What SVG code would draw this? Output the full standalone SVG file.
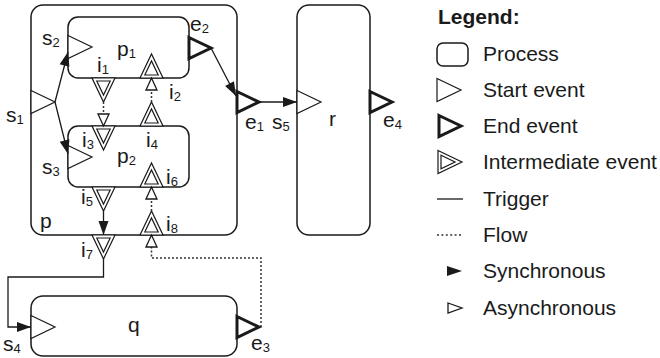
<svg xmlns="http://www.w3.org/2000/svg" xmlns:xlink="http://www.w3.org/1999/xlink" width="660" height="358" viewBox="0 0 660 358">
<style>
.proc{fill:#fff;stroke:#1a1a1a;stroke-width:1.5}
.lbl{font-family:"Liberation Sans",Arial,sans-serif;font-size:21px;fill:#1a1a1a}
.sub{font-size:13px}
.leg{font-family:"Liberation Sans",Arial,sans-serif;font-size:21px;fill:#1a1a1a}
.trig{fill:none;stroke:#1a1a1a;stroke-width:1.3}
.flow{fill:none;stroke:#333;stroke-width:1.5;stroke-dasharray:2 2}
</style>
<defs>
<marker id="arrF" markerUnits="userSpaceOnUse" markerWidth="15" markerHeight="11" refX="14" refY="5" orient="auto" overflow="visible">
<path d="M0,0 L14,5 L0,10 Z" fill="#1a1a1a"/>
</marker>
<marker id="arrO" markerUnits="userSpaceOnUse" markerWidth="15" markerHeight="14" refX="13" refY="6" orient="auto" overflow="visible">
<path d="M1,0.5 L13,6 L1,11.5 Z" fill="#fff" stroke="#1a1a1a" stroke-width="1.3"/>
</marker>
<g id="tStart"><path d="M0,-11.5 L24,0 L0,11.5 Z" fill="#fff" stroke="#1a1a1a" stroke-width="1.2"/></g>
<g id="tEnd"><path d="M0,-10.5 L22,0 L0,10.5 Z" fill="#fff" stroke="#1a1a1a" stroke-width="3"/></g>
<g id="tInt"><path d="M0,-11.5 L24,0 L0,11.5 Z" fill="#fff" stroke="#1a1a1a" stroke-width="1.2"/><path d="M3,-6.7 L17,0 L3,6.7 Z" fill="#fff" stroke="#1a1a1a" stroke-width="1.2"/></g>
</defs>

<g id="p"><rect class="proc" x="31" y="5" width="206" height="230" rx="12"/><text class="lbl" x="40" y="228">p</text></g>
<g id="p1"><rect class="proc" x="68" y="17" width="121" height="61" rx="10"/><text class="lbl" x="117" y="56">p<tspan class="sub" dy="2">1</tspan></text></g>
<g id="p2"><rect class="proc" x="68" y="126" width="121" height="61" rx="10"/><text class="lbl" x="117" y="163">p<tspan class="sub" dy="2">2</tspan></text></g>
<g id="r"><rect class="proc" x="297" y="5" width="73" height="230" rx="12"/><text class="lbl" x="329" y="126">r</text></g>
<g id="q"><rect class="proc" x="31" y="296" width="206" height="60" rx="12"/><text class="lbl" x="128" y="332">q</text></g>

<g id="s1"><use xlink:href="#tStart" transform="translate(31,102)"/><text class="lbl" x="6" y="122">s<tspan class="sub" dy="2">1</tspan></text></g>
<g id="s2"><use xlink:href="#tStart" transform="translate(68,47)"/><text class="lbl" x="42" y="45">s<tspan class="sub" dy="2">2</tspan></text></g>
<g id="s3"><use xlink:href="#tStart" transform="translate(68,157)"/><text class="lbl" x="42" y="174">s<tspan class="sub" dy="2">3</tspan></text></g>
<g id="s4"><use xlink:href="#tStart" transform="translate(31,327)"/><text class="lbl" x="3" y="351">s<tspan class="sub" dy="2">4</tspan></text></g>
<g id="s5"><use xlink:href="#tStart" transform="translate(297,102)"/><text class="lbl" x="272" y="129">s<tspan class="sub" dy="2">5</tspan></text></g>
<g id="e1"><use xlink:href="#tEnd" transform="translate(237,102)"/><text class="lbl" x="245" y="129">e<tspan class="sub" dy="2">1</tspan></text></g>
<g id="e2"><use xlink:href="#tEnd" transform="translate(189,48)"/><text class="lbl" x="190" y="31">e<tspan class="sub" dy="2">2</tspan></text></g>
<g id="e3"><use xlink:href="#tEnd" transform="translate(237,327)"/><text class="lbl" x="251" y="350">e<tspan class="sub" dy="2">3</tspan></text></g>
<g id="e4"><use xlink:href="#tEnd" transform="translate(370,102)"/><text class="lbl" x="383" y="127">e<tspan class="sub" dy="2">4</tspan></text></g>
<g id="i1"><use xlink:href="#tInt" transform="translate(103.5,78) rotate(90)"/><text class="lbl" x="97" y="72">i<tspan class="sub" dy="2">1</tspan></text></g>
<g id="i2"><use xlink:href="#tInt" transform="translate(151.5,78) rotate(-90)"/><text class="lbl" x="169" y="99">i<tspan class="sub" dy="2">2</tspan></text></g>
<g id="i3"><use xlink:href="#tInt" transform="translate(103.5,126) rotate(90)"/><text class="lbl" x="82" y="147">i<tspan class="sub" dy="2">3</tspan></text></g>
<g id="i4"><use xlink:href="#tInt" transform="translate(151.5,126) rotate(-90)"/><text class="lbl" x="146" y="147">i<tspan class="sub" dy="2">4</tspan></text></g>
<g id="i5"><use xlink:href="#tInt" transform="translate(103.5,187) rotate(90)"/><text class="lbl" x="81" y="204">i<tspan class="sub" dy="2">5</tspan></text></g>
<g id="i6"><use xlink:href="#tInt" transform="translate(151.5,187) rotate(-90)"/><text class="lbl" x="166" y="184">i<tspan class="sub" dy="2">6</tspan></text></g>
<g id="i7"><use xlink:href="#tInt" transform="translate(103.5,235) rotate(90)"/><text class="lbl" x="81" y="257">i<tspan class="sub" dy="2">7</tspan></text></g>
<g id="i8"><use xlink:href="#tInt" transform="translate(151.5,235) rotate(-90)"/><text class="lbl" x="166" y="231">i<tspan class="sub" dy="2">8</tspan></text></g>

<g id="connectors">
<path class="trig" d="M55,102 L68,52" marker-end="url(#arrF)"/>
<path class="trig" d="M55,102 L68,154" marker-end="url(#arrF)"/>
<path class="trig" d="M211,48 L236,96" marker-end="url(#arrF)"/>
<path class="trig" d="M259,102 L297,102" marker-end="url(#arrF)"/>
<path class="trig" d="M103.5,211 L103.5,235" marker-end="url(#arrF)"/>
<path class="trig" d="M103.5,259 L103.5,277 L8,277 L8,327 L31,327" marker-end="url(#arrF)"/>
<path class="flow" d="M103.5,102 L103.5,126" marker-end="url(#arrO)"/>
<path class="flow" d="M151.5,102 L151.5,78" marker-end="url(#arrO)"/>
<path class="flow" d="M151.5,211 L151.5,187" marker-end="url(#arrO)"/>
<path class="flow" d="M261,327 L261,258 L151.5,258 L151.5,235" marker-end="url(#arrO)"/>
</g>

<g id="legend">
<text class="leg" x="438" y="24" font-weight="bold">Legend:</text>
<rect x="437" y="43" width="31" height="23" rx="6" fill="#fff" stroke="#1a1a1a" stroke-width="1.5"/>
<text class="leg" x="483" y="61">Process</text>
<use xlink:href="#tStart" transform="translate(437,90)"/>
<text class="leg" x="483" y="97">Start event</text>
<use xlink:href="#tEnd" transform="translate(439,126)"/>
<text class="leg" x="483" y="133">End event</text>
<use xlink:href="#tInt" transform="translate(438,162)"/>
<text class="leg" x="483" y="169">Intermediate event</text>
<line x1="437" y1="199" x2="463" y2="199" stroke="#1a1a1a" stroke-width="1.3"/>
<text class="leg" x="483" y="206">Trigger</text>
<line x1="437" y1="235" x2="463" y2="235" stroke="#333" stroke-width="1.3" stroke-dasharray="2 2.4"/>
<text class="leg" x="483" y="242">Flow</text>
<path d="M447,266 L462,271 L447,276 Z" fill="#1a1a1a"/>
<text class="leg" x="483" y="278">Synchronous</text>
<path d="M448,303 L462,308 L448,313 Z" fill="#fff" stroke="#1a1a1a" stroke-width="1.3"/>
<text class="leg" x="483" y="315">Asynchronous</text>
</g>
</svg>
